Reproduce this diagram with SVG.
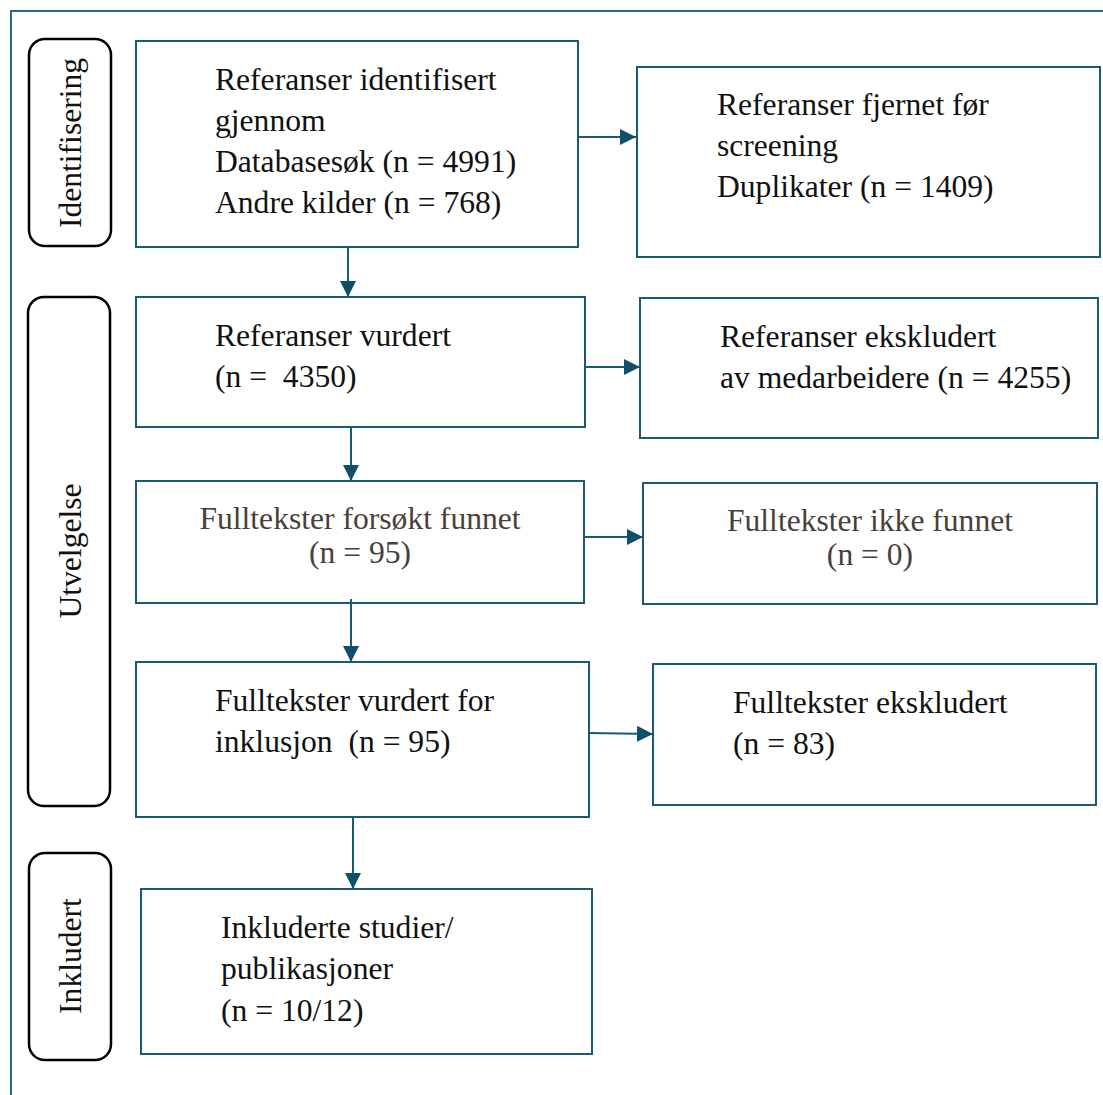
<svg xmlns="http://www.w3.org/2000/svg" width="1103" height="1095" viewBox="0 0 1103 1095">
<defs>
<style>
.box{fill:#fff;stroke:#1b5a73;stroke-width:2}
.side{fill:#fff;stroke:#000;stroke-width:2.5}
.t{font-family:"Liberation Serif","Times New Roman",serif;font-size:31.6px;fill:#111}
.g{fill:#4a3f39}
.c{stroke:#1b5a73;stroke-width:2;fill:none}
</style>
<marker id="a" viewBox="0 0 10 10" refX="10" refY="5" markerWidth="16" markerHeight="16" markerUnits="userSpaceOnUse" orient="auto">
<path d="M0,0 L10,5 L0,10 z" fill="#0f5068"/>
</marker>
</defs>
<rect width="1103" height="1095" fill="#fff"/>
<g id="frame"><path d="M11,1095 V11 H1103" fill="none" stroke="#236b86" stroke-width="2"/></g>

<g id="side-identifisering"><rect class="side" x="29" y="39" width="82" height="207" rx="16"/>
<text class="t" transform="translate(81,143) rotate(-90)" text-anchor="middle">Identifisering</text></g>
<g id="side-utvelgelse"><rect class="side" x="28" y="297" width="82" height="509" rx="16"/>
<text class="t" transform="translate(81,551) rotate(-90)" text-anchor="middle">Utvelgelse</text></g>
<g id="side-inkludert"><rect class="side" x="29" y="853" width="82" height="207" rx="16"/>
<text class="t" transform="translate(81,956) rotate(-90)" text-anchor="middle">Inkludert</text></g>

<g id="n1"><rect class="box" x="136" y="41" width="442" height="206"/>
<text class="t" x="215" y="90">Referanser identifisert</text>
<text class="t" x="215" y="131">gjennom</text>
<text class="t" x="215" y="172">Databasesøk (n = 4991)</text>
<text class="t" x="215" y="213">Andre kilder (n = 768)</text></g>

<g id="n2"><rect class="box" x="637" y="67" width="463" height="190"/>
<text class="t" x="717" y="115">Referanser fjernet før</text>
<text class="t" x="717" y="156">screening</text>
<text class="t" x="717" y="197">Duplikater (n = 1409)</text></g>

<g id="n3"><rect class="box" x="136" y="297" width="449" height="130"/>
<text class="t" x="215" y="346">Referanser vurdert</text>
<text class="t" x="215" y="387" xml:space="preserve">(n =  4350)</text></g>

<g id="n4"><rect class="box" x="640" y="298" width="458" height="140"/>
<text class="t" x="720" y="347">Referanser ekskludert</text>
<text class="t" x="720" y="388">av medarbeidere (n = 4255)</text></g>

<g id="n5"><rect class="box" x="136" y="481" width="448" height="122"/>
<text class="t g" x="360" y="529" text-anchor="middle">Fulltekster forsøkt funnet</text>
<text class="t g" x="360" y="563" text-anchor="middle">(n = 95)</text></g>

<g id="n6"><rect class="box" x="643" y="483" width="454" height="121"/>
<text class="t g" x="870" y="531" text-anchor="middle">Fulltekster ikke funnet</text>
<text class="t g" x="870" y="565" text-anchor="middle">(n = 0)</text></g>

<g id="n7"><rect class="box" x="136" y="662" width="453" height="155"/>
<text class="t" x="215" y="711">Fulltekster vurdert for</text>
<text class="t" x="215" y="752" xml:space="preserve">inklusjon  (n = 95)</text></g>

<g id="n8"><rect class="box" x="653" y="664" width="443" height="141"/>
<text class="t" x="733" y="713">Fulltekster ekskludert</text>
<text class="t" x="733" y="754">(n = 83)</text></g>

<g id="n9"><rect class="box" x="141" y="889" width="451" height="165"/>
<text class="t" x="221" y="938">Inkluderte studier/</text>
<text class="t" x="221" y="979">publikasjoner</text>
<text class="t" x="221" y="1021">(n = 10/12)</text></g>

<g id="connectors">
<line class="c" x1="578" y1="137" x2="636" y2="137" marker-end="url(#a)"/>
<line class="c" x1="348" y1="247" x2="348" y2="297" marker-end="url(#a)"/>
<line class="c" x1="585" y1="367" x2="640" y2="367" marker-end="url(#a)"/>
<line class="c" x1="351" y1="427" x2="351" y2="481" marker-end="url(#a)"/>
<line class="c" x1="585" y1="537" x2="643" y2="537" marker-end="url(#a)"/>
<line class="c" x1="351" y1="599" x2="351" y2="662" marker-end="url(#a)"/>
<line class="c" x1="589" y1="733" x2="653" y2="734" marker-end="url(#a)"/>
<line class="c" x1="353" y1="817" x2="353" y2="889" marker-end="url(#a)"/>
</g>
</svg>
